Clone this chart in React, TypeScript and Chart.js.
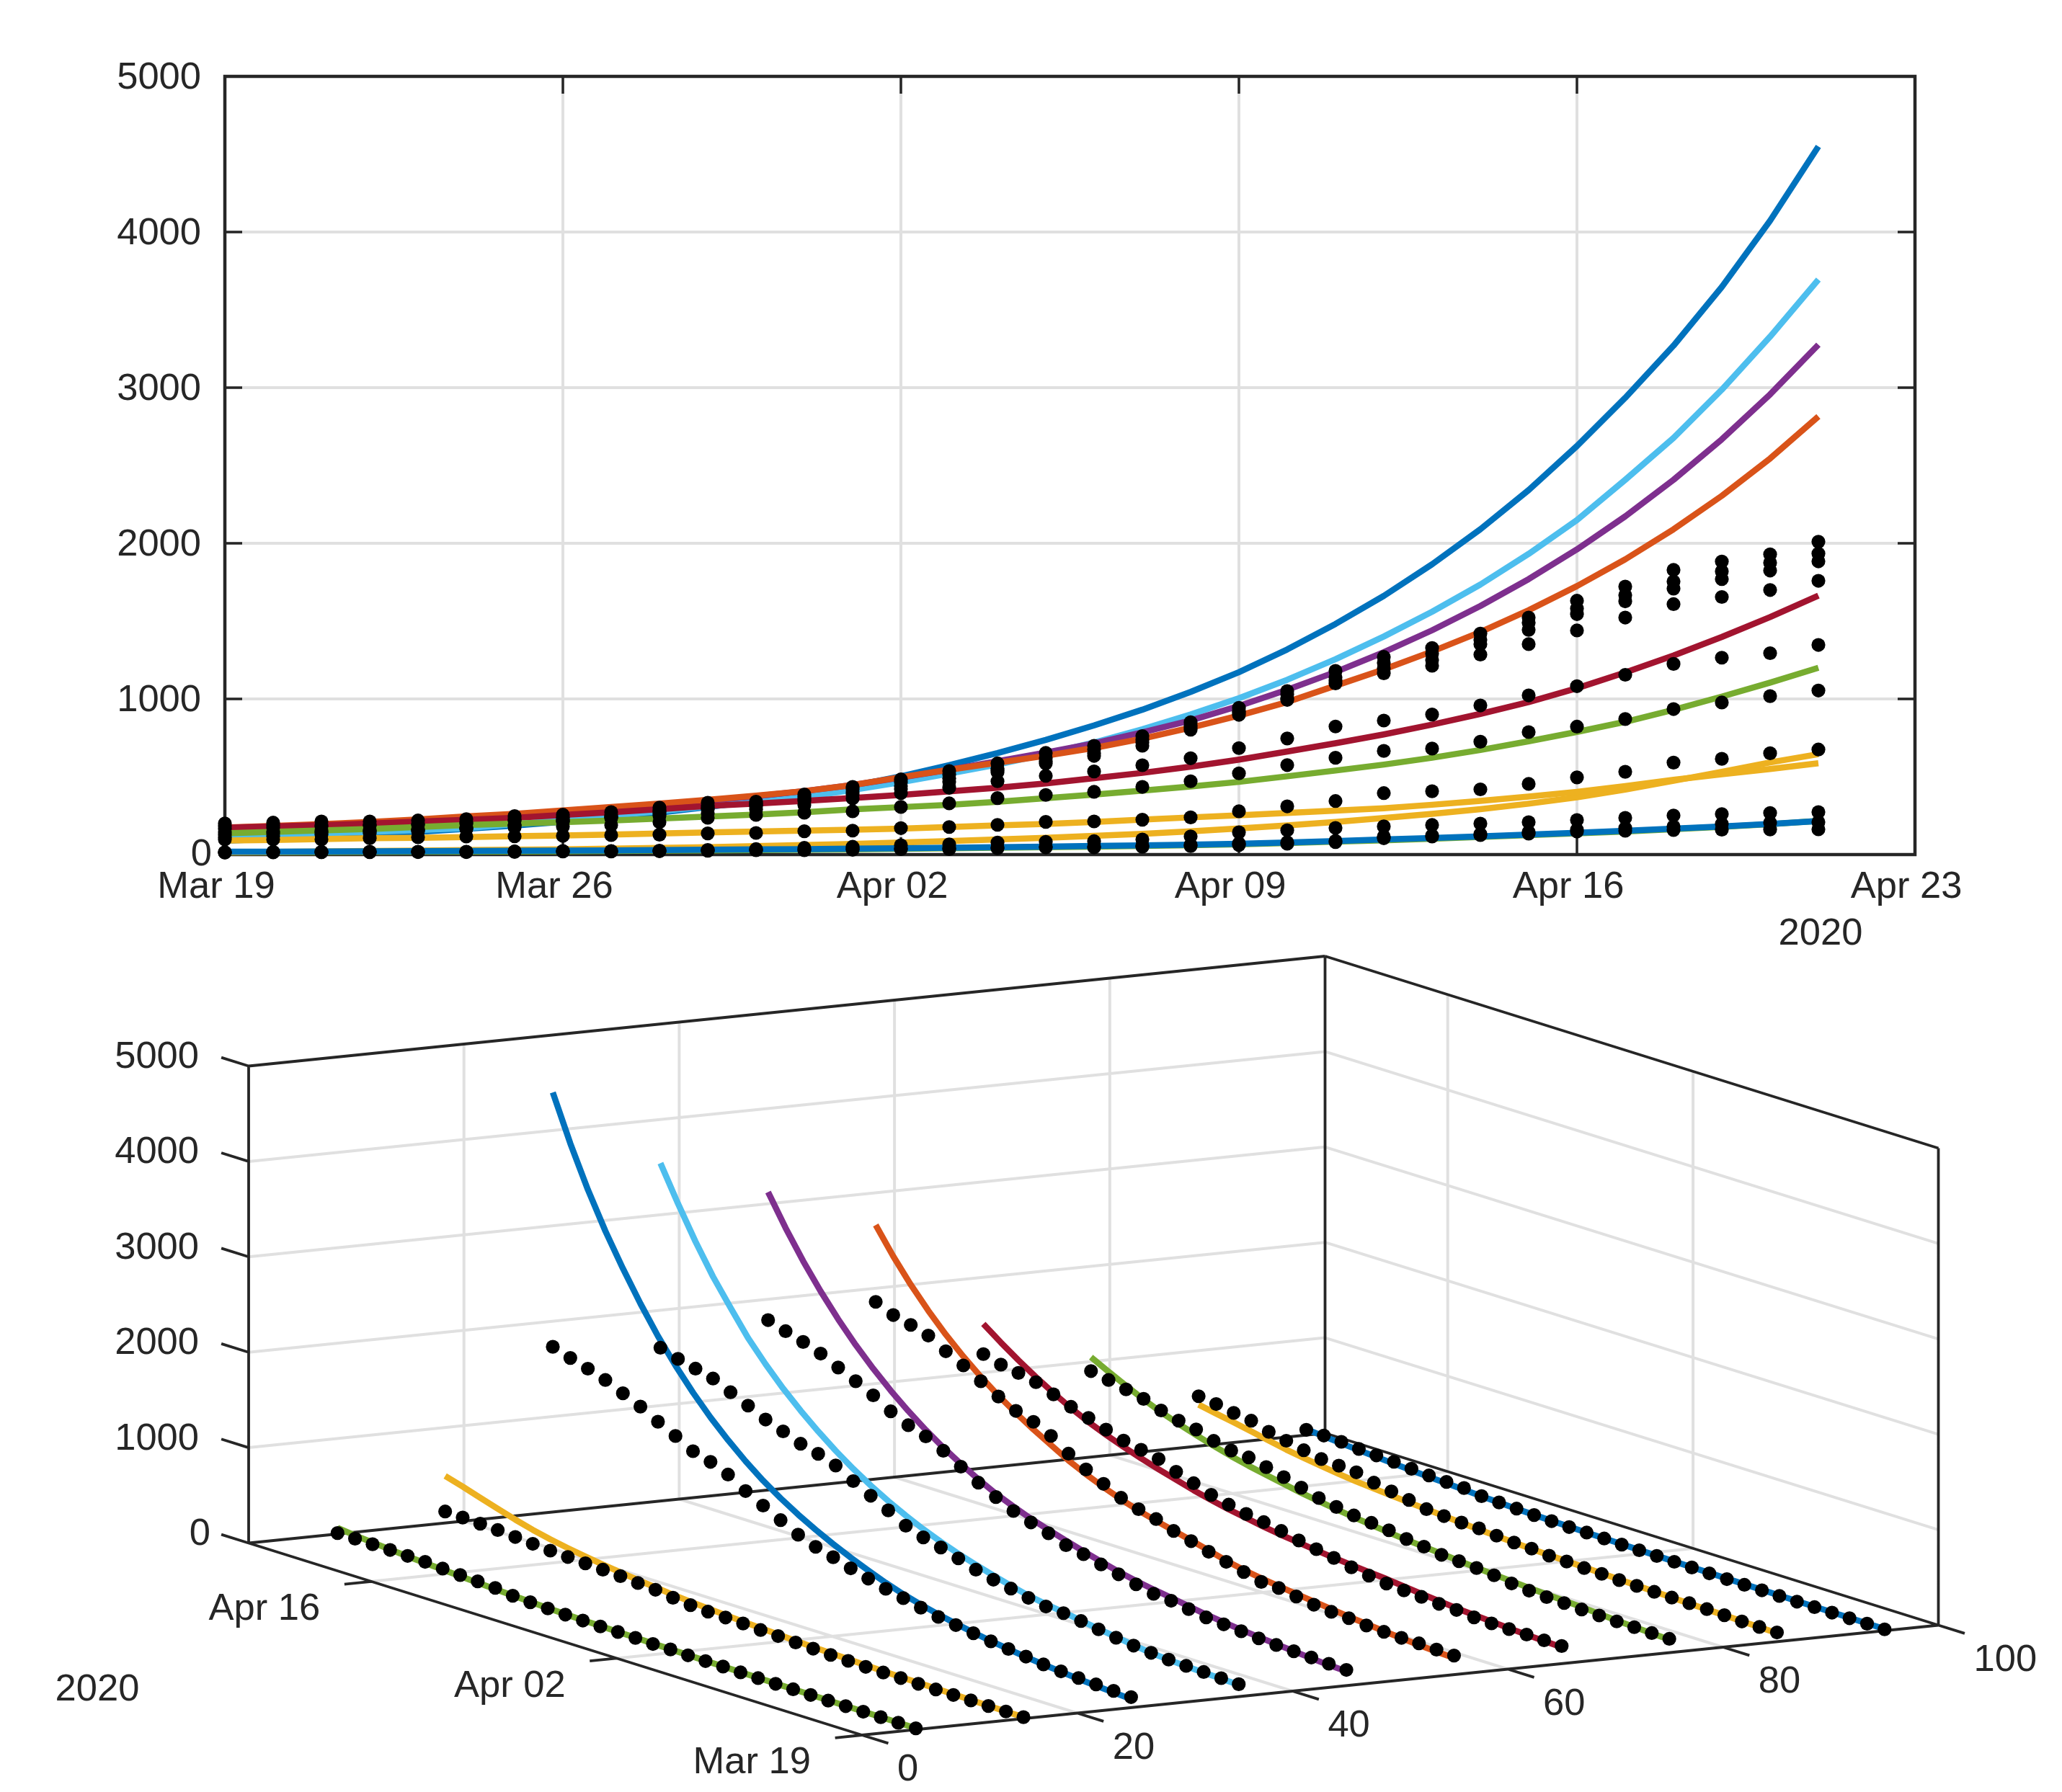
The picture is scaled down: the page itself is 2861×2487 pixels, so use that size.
import React, { useEffect, useRef } from "react";
import { Chart, registerables } from "chart.js";

Chart.register(...registerables);

// ---- data ----
const ages = [5, 15, 25, 35, 45, 55, 65, 75, 85, 95];
const seriesColors = ["#77AC30", "#EDB120", "#0072BD", "#4DBEEE", "#7E2F8E", "#D95319", "#A2142F", "#77AC30", "#EDB120", "#0072BD"];

const fitAge5 = [14,15,16,17,18,19,20,21,23,25,27,29,31,34,37,40,44,47,51,55,60,66,74,83,92,102,113,125,136,148,163,178,195,216];
const fitAge15 = [15,17,20,23,26,29,31,33,38,43,48,54,61,68,77,87,97,108,120,133,149,168,188,210,235,262,292,327,368,418,474,532,592,645];
const fitAge25 = [89,101,114,129,146,165,186,211,238,270,305,345,390,441,503,575,652,737,830,931,1045,1172,1318,1482,1662,1865,2090,2342,2625,2935,3270,3647,4073,4550];
const fitAge35 = [123,130,137,146,157,170,195,222,250,279,310,336,369,415,465,520,578,645,720,805,900,1005,1123,1255,1401,1560,1735,1932,2149,2408,2677,2987,3328,3694];
const fitAge45 = [150,158,172,188,205,222,240,262,285,315,347,375,408,447,495,545,600,655,715,785,862,955,1059,1173,1300,1441,1597,1770,1961,2173,2408,2668,2957,3276];
const fitAge55 = [174,184,196,210,226,245,262,284,306,328,352,378,408,447,497,545,590,635,685,745,815,893,980,1085,1190,1305,1430,1570,1725,1897,2090,2305,2545,2815];
const fitAge65 = [172,180,189,199,212,223,236,255,272,292,313,328,345,363,383,406,429,457,491,525,565,610,662,715,772,835,904,980,1069,1170,1279,1398,1526,1664];
const fitAge75 = [137,146,155,164,177,190,199,208,219,232,244,257,272,290,305,320,339,362,385,411,437,467,503,540,578,622,672,728,788,853,930,1015,1105,1200];
const fitAge85 = [90,94,99,105,108,112,118,123,129,135,142,148,154,160,167,177,187,197,210,225,239,252,267,282,298,320,345,373,403,440,480,516,550,587];
const fitAge95 = [18,19,20,21,22,23,24,26,27,29,31,33,35,38,41,44,48,51,55,59,64,70,78,87,97,107,117,128,140,153,167,181,197,215];

const casesAge5 = [13,14,15,15,16,16,18,20,20,22,25,28,28,31,35,35,41,46,46,50,55,62,70,80,105,116,125,135,148,153,158,160,161,162];
const casesAge15 = [15,17,17,18,18,18,20,23,23,25,30,35,43,50,60,66,77,82,86,97,117,143,156,171,181,190,199,208,222,236,251,260,267,273];
const casesAge25 = [110,118,128,138,150,165,190,212,235,262,290,318,358,400,440,490,540,599,650,720,815,910,1005,1120,1196,1250,1352,1444,1545,1627,1709,1770,1825,1884];
const casesAge35 = [130,136,143,150,158,172,190,215,245,275,300,312,345,385,421,468,529,586,634,699,802,898,994,1100,1165,1213,1285,1352,1440,1523,1609,1655,1700,1759];
const casesAge45 = [165,172,180,188,196,208,225,240,255,285,315,330,372,420,465,515,552,620,676,738,827,920,1030,1139,1232,1292,1380,1490,1581,1667,1755,1820,1875,1934];
const casesAge55 = [200,205,213,213,219,228,247,256,273,302,333,340,386,435,483,537,586,653,699,761,850,943,1051,1180,1270,1327,1420,1523,1631,1722,1829,1883,1929,2010];
const casesAge65 = [185,187,190,190,192,198,218,225,240,250,265,290,320,361,395,429,471,506,534,574,619,684,746,823,861,900,958,1023,1082,1155,1225,1265,1294,1347];
const casesAge75 = [145,148,152,155,160,165,175,180,190,208,236,255,269,278,306,329,363,383,403,435,471,522,575,622,666,681,725,787,822,871,935,977,1018,1054];
const casesAge85 = [97,97,97,105,111,116,117,120,125,128,136,139,150,154,170,177,191,210,213,224,239,278,310,344,395,407,419,454,496,532,591,615,651,675];
const casesAge95 = [14,16,16,17,17,17,19,21,21,23,26,30,32,36,38,40,46,51,51,56,62,72,79,88,115,122,132,145,160,170,180,197,205,208];

const fits = [fitAge5, fitAge15, fitAge25, fitAge35, fitAge45, fitAge55, fitAge65, fitAge75, fitAge85, fitAge95];
const cases = [casesAge5, casesAge15, casesAge25, casesAge35, casesAge45, casesAge55, casesAge65, casesAge75, casesAge85, casesAge95];

const dateTicks2D = ["Mar 19", "Mar 26", "Apr 02", "Apr 09", "Apr 16", "Apr 23"];
const yearLabel = "2020";
const valueTicks3D = [0, 1000, 2000, 3000, 4000, 5000];
const ageTicks3D = [0, 20, 40, 60, 80, 100];
const dateTicks3D = [
  { day: 0, label: "Mar 19" },
  { day: 14, label: "Apr 02" },
  { day: 28, label: "Apr 16" },
];

// ---- style ----
const INK = "#262626";
const GRID = "#e0e0e0";
const FONT_FAMILY = "'Liberation Sans', Arial, sans-serif";
const FONT_SIZE = 52.5;
const FONT = `${FONT_SIZE}px ${FONT_FAMILY}`;
const LINE_WIDTH = 8.5;
const DOT_RADIUS = 9.6;
const TOP_H = 1320;
const BOTTOM_H = 2487 - TOP_H;

// ---- orthographic projection of the 3-D view onto the page ----
const DAY_SPAN = 35;
const VALUE_SPAN = 5000;
function project(age: number, day: number, value: number) {
  return {
    x: 1196 + (age / 100) * 1493.5 - (day / DAY_SPAN) * 851,
    y: 2408 - (age / 100) * 152.5 - (day / DAY_SPAN) * 266.5 - (value / VALUE_SPAN) * 662,
  };
}

function makeTopChart(canvas: HTMLCanvasElement) {
  const lineSets = fits.map((vals, i) => ({
    type: "scatter" as const,
    showLine: true,
    data: vals.map((v, d) => ({ x: d, y: v })),
    borderColor: seriesColors[i],
    borderWidth: LINE_WIDTH,
    pointRadius: 0,
    tension: 0,
    borderCapStyle: "butt",
    borderJoinStyle: "round",
    clip: false,
    order: 100 - i,
  }));
  const dotSets = cases.map((vals, i) => ({
    type: "scatter" as const,
    showLine: false,
    data: vals.map((v, d) => ({ x: d, y: v })),
    backgroundColor: "#000000",
    borderWidth: 0,
    pointRadius: DOT_RADIUS,
    clip: false,
    order: 50 - i,
  }));

  const framePlugin = {
    id: "frame2d",
    beforeDraw(chart: any) {
      const items = chart.scales.y.getLabelItems();
      for (const it of items) {
        if (it.moved) continue;
        if (it.label === "0") {
          it.options.translation[0] += 15;
          it.options.translation[1] += 1;
        } else {
          it.options.translation[1] += 3;
        }
        it.moved = true;
      }
    },
    beforeDatasetsDraw(chart: any) {
      const { ctx, chartArea: a, scales } = chart;
      ctx.save();
      ctx.strokeStyle = INK;
      ctx.lineWidth = 3.5;
      ctx.beginPath();
      const tick = 24;
      for (const t of scales.x.ticks) {
        const x = scales.x.getPixelForValue(t.value);
        ctx.moveTo(x, a.bottom);
        ctx.lineTo(x, a.bottom - tick);
        ctx.moveTo(x, a.top);
        ctx.lineTo(x, a.top + tick);
      }
      for (const t of scales.y.ticks) {
        const y = scales.y.getPixelForValue(t.value);
        ctx.moveTo(a.left, y);
        ctx.lineTo(a.left + tick, y);
        ctx.moveTo(a.right, y);
        ctx.lineTo(a.right - tick, y);
      }
      ctx.stroke();
      ctx.lineWidth = 4.5;
      ctx.strokeRect(a.left, a.top, a.right - a.left, a.bottom - a.top);
      ctx.restore();
    },
    afterDraw(chart: any) {
      const { ctx } = chart;
      ctx.save();
      ctx.font = FONT;
      ctx.fillStyle = INK;
      ctx.textAlign = "center";
      ctx.textBaseline = "middle";
      ctx.fillText(yearLabel, 2526, 1297);
      ctx.restore();
    },
  };

  return new Chart(canvas, {
    type: "scatter",
    data: { datasets: [...dotSets, ...lineSets] as any },
    plugins: [framePlugin],
    options: {
      animation: false,
      responsive: false,
      devicePixelRatio: 1,
      layout: { autoPadding: false, padding: { left: 0, top: 106, right: 204, bottom: 0 } },
      plugins: { legend: { display: false }, tooltip: { enabled: false } },
      scales: {
        x: {
          type: "linear",
          min: 0,
          max: DAY_SPAN,
          afterFit: (s: any) => { s.height = TOP_H - 1186; },
          border: { display: false },
          grid: { color: GRID, lineWidth: 4, drawTicks: false, tickLength: 0 },
          ticks: {
            stepSize: 7,
            autoSkip: false,
            maxRotation: 0,
            labelOffset: -12,
            padding: 14,
            color: INK,
            font: { family: FONT_FAMILY, size: FONT_SIZE },
            callback: (v: any) => dateTicks2D[Math.round(Number(v) / 7)],
          },
        },
        y: {
          type: "linear",
          min: 0,
          max: VALUE_SPAN,
          afterFit: (s: any) => { s.width = 312; },
          border: { display: false },
          grid: { color: GRID, lineWidth: 4, drawTicks: false, tickLength: 0 },
          ticks: {
            stepSize: 1000,
            padding: 33,
            color: INK,
            font: { family: FONT_FAMILY, size: FONT_SIZE },
            callback: (v: any) => String(v),
          },
        },
      },
    } as any,
  });
}

function make3DChart(canvas: HTMLCanvasElement) {
  const lineSets = fits.map((vals, i) => ({
    type: "scatter" as const,
    showLine: true,
    data: vals.map((v, d) => project(ages[i], d, v)),
    borderColor: seriesColors[i],
    borderWidth: LINE_WIDTH,
    pointRadius: 0,
    tension: 0,
    borderCapStyle: "butt",
    borderJoinStyle: "round",
    clip: false,
    order: 100 - i,
  }));
  const dotSets = cases.map((vals, i) => ({
    type: "scatter" as const,
    showLine: false,
    data: vals.map((v, d) => project(ages[i], d, v)),
    backgroundColor: "#000000",
    borderWidth: 0,
    pointRadius: DOT_RADIUS,
    clip: false,
    order: 50 - i,
  }));

  const scenePlugin = {
    id: "scene3d",
    beforeDatasetsDraw(chart: any) {
      const { ctx, scales } = chart;
      const px = (p: { x: number; y: number }) => [scales.x.getPixelForValue(p.x), scales.y.getPixelForValue(p.y)];
      const seg = (a: number[], b: number[]) => {
        const [x1, y1] = px(project(a[0], a[1], a[2]));
        const [x2, y2] = px(project(b[0], b[1], b[2]));
        ctx.moveTo(x1, y1);
        ctx.lineTo(x2, y2);
      };
      const midValues = valueTicks3D.slice(1, -1);
      const midAges = ageTicks3D.slice(1, -1);
      const midDays = dateTicks3D.slice(1).map((d) => d.day);

      ctx.save();
      ctx.strokeStyle = GRID;
      ctx.lineWidth = 4;
      ctx.beginPath();
      for (const z of midValues) {
        seg([0, DAY_SPAN, z], [100, DAY_SPAN, z]);
        seg([100, DAY_SPAN, z], [100, 0, z]);
      }
      for (const a of midAges) {
        seg([a, DAY_SPAN, 0], [a, DAY_SPAN, VALUE_SPAN]);
        seg([a, 0, 0], [a, DAY_SPAN, 0]);
      }
      for (const d of midDays) {
        seg([100, d, 0], [100, d, VALUE_SPAN]);
        seg([0, d, 0], [100, d, 0]);
      }
      ctx.stroke();

      ctx.strokeStyle = INK;
      ctx.lineWidth = 3.8;
      ctx.beginPath();
      // box edges
      seg([0, 0, 0], [100, 0, 0]);
      seg([0, 0, 0], [0, DAY_SPAN, 0]);
      seg([0, DAY_SPAN, 0], [100, DAY_SPAN, 0]);
      seg([100, 0, 0], [100, DAY_SPAN, 0]);
      seg([0, DAY_SPAN, 0], [0, DAY_SPAN, VALUE_SPAN]);
      seg([100, DAY_SPAN, 0], [100, DAY_SPAN, VALUE_SPAN]);
      seg([100, 0, 0], [100, 0, VALUE_SPAN]);
      seg([0, DAY_SPAN, VALUE_SPAN], [100, DAY_SPAN, VALUE_SPAN]);
      seg([100, DAY_SPAN, VALUE_SPAN], [100, 0, VALUE_SPAN]);
      // tick marks sticking out of the box
      for (const a of ageTicks3D) seg([a, 0, 0], [a, -1.5, 0]);
      for (const d of dateTicks3D) seg([0, d.day, 0], [-2.5, d.day, 0]);
      for (const z of valueTicks3D) seg([0, DAY_SPAN, z], [0, DAY_SPAN + 1.56, z]);
      ctx.stroke();
      ctx.restore();
    },
    afterDraw(chart: any) {
      const { ctx, scales } = chart;
      const put = (text: string, p: { x: number; y: number }, dx: number, dy: number, align: string) => {
        ctx.textAlign = align;
        ctx.fillText(text, scales.x.getPixelForValue(p.x) + dx, scales.y.getPixelForValue(p.y) + dy);
      };
      ctx.save();
      ctx.font = FONT;
      ctx.fillStyle = INK;
      ctx.textBaseline = "middle";
      for (const a of ageTicks3D) put(String(a), project(a, 0, 0), 49, 49, "left");
      for (const d of dateTicks3D) put(d.label, project(0, d.day, 0), -71, 39, "right");
      for (const z of valueTicks3D) put(String(z), project(0, DAY_SPAN, z), z === 0 ? -53 : -69, -12, "right");
      ctx.textAlign = "center";
      ctx.fillText(yearLabel, scales.x.getPixelForValue(135), scales.y.getPixelForValue(2346));
      ctx.restore();
    },
  };

  return new Chart(canvas, {
    type: "scatter",
    data: { datasets: [...dotSets, ...lineSets] as any },
    plugins: [scenePlugin],
    options: {
      animation: false,
      responsive: false,
      devicePixelRatio: 1,
      layout: { autoPadding: false, padding: 0 },
      plugins: { legend: { display: false }, tooltip: { enabled: false } },
      scales: {
        x: { type: "linear", display: false, min: 0, max: 2861 },
        y: { type: "linear", display: false, min: TOP_H, max: 2487, reverse: true },
      },
    } as any,
  });
}

export default function App() {
  const topRef = useRef<HTMLCanvasElement>(null);
  const bottomRef = useRef<HTMLCanvasElement>(null);
  useEffect(() => {
    const a = makeTopChart(topRef.current!);
    const b = make3DChart(bottomRef.current!);
    return () => {
      a.destroy();
      b.destroy();
    };
  }, []);
  return (
    <div style={{ position: "absolute", left: 0, top: 0, width: 2861, height: 2487, background: "#fff", overflow: "hidden" }}>
      <canvas ref={topRef} width={2861} height={TOP_H} style={{ position: "absolute", left: 0, top: 0, width: 2861, height: TOP_H, display: "block" }} />
      <canvas ref={bottomRef} width={2861} height={BOTTOM_H} style={{ position: "absolute", left: 0, top: TOP_H, width: 2861, height: BOTTOM_H, display: "block" }} />
    </div>
  );
}
